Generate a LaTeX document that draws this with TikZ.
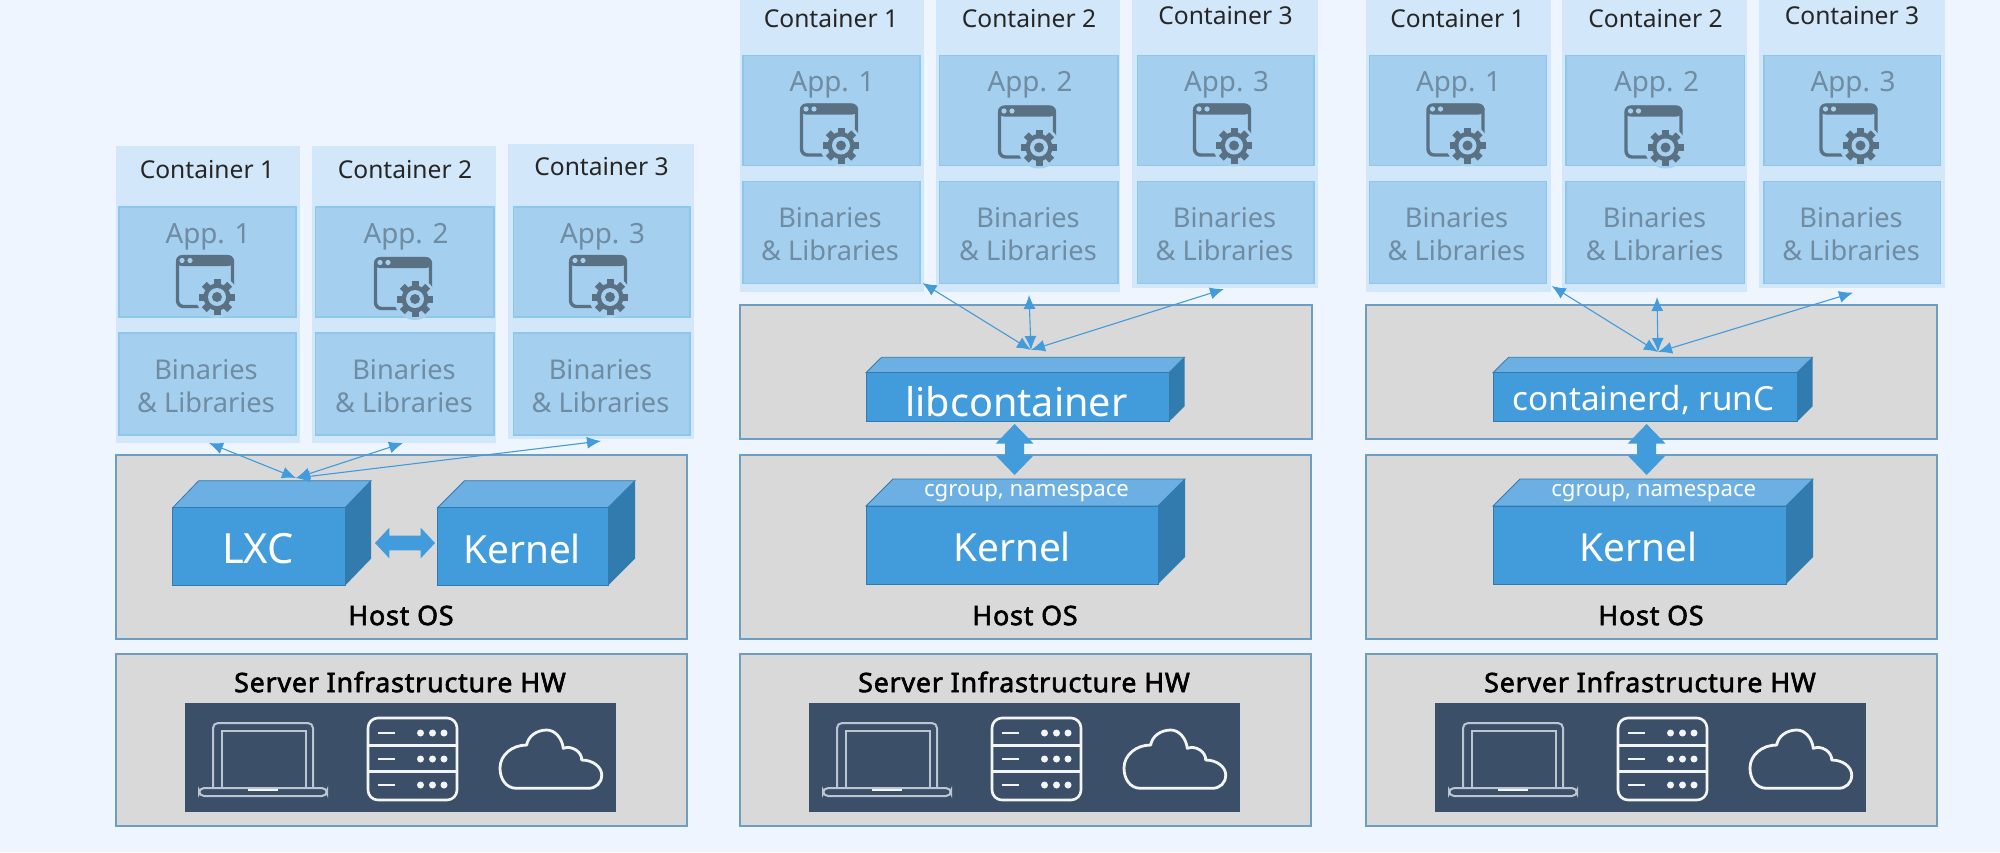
\documentclass[tikz,border=0pt]{standalone}
\usepackage{fontspec}
\setmainfont{Noto Sans}
\newfontfamily\headfont{Noto Sans}[FakeBold=2.2, LetterSpace=3]
\usepackage{tikz}
\usetikzlibrary{arrows.meta, fit, shapes.arrows}

\definecolor{bgfill}{HTML}{EFF5FF}
\definecolor{contfill}{HTML}{D2E7F9}
\definecolor{appfill}{HTML}{A4CFEF}
\definecolor{appline}{HTML}{8FC6EC}
\definecolor{appink}{HTML}{6F8CA3}
\definecolor{iconink}{HTML}{5A7184}
\definecolor{layerfill}{HTML}{D9D9D9}
\definecolor{layerline}{HTML}{6E9DC2}
\definecolor{blockfront}{HTML}{429BDB}
\definecolor{blocktop}{HTML}{6CB0E3}
\definecolor{blockside}{HTML}{327BAF}
\definecolor{hwfill}{HTML}{3B5068}
\definecolor{hwline}{HTML}{F2F4F6}
\definecolor{lapline}{HTML}{BCC6D0}

\tikzset{
    area/.style={inner sep=0pt, outer sep=0pt},
    contbox/.style={area, fill=contfill},
    appbox/.style={area, fill=appfill, draw=appline, line width=0.6pt},
    layerbox/.style={area, fill=layerfill, draw=layerline, line width=0.7pt},
    hwbox/.style={area, fill=hwfill},
    conttext/.style={font=\fontsize{12.3}{14}\selectfont, text=black!85},
    apptext/.style={font=\fontsize{13.9}{16}\selectfont, text=appink},
    bintext/.style={font=\fontsize{13.6}{16.5}\selectfont, text=appink, align=center},
    blocktext/.style={font=\fontsize{19.4}{22}\selectfont, text=white},
    smalltext/.style={font=\fontsize{11.1}{13}\selectfont, text=white},
    headtext/.style={font=\headfont\fontsize{13.4}{15}\selectfont, text=black},
    link/.style={<->, >={Latex[length=7pt,width=6pt]}, draw=blockfront, line width=0.55pt},
    sidearrow/.style={shape=double arrow, fill=blockfront, outer sep=0pt, inner xsep=3pt, inner ysep=3.5pt,
        minimum height=30pt, minimum width=15pt, double arrow head extend=4pt,
        double arrow tip angle=94},
    uparrow/.style={shape=double arrow, rotate=90, fill=blockfront, outer sep=0pt, inner xsep=3.5pt,
        inner ysep=4.5pt, minimum height=25.5pt, minimum width=18.5pt,
        double arrow head extend=4.75pt, double arrow tip angle=88},
    appicon/.pic={
        \draw[iconink, line width=1.7pt, rounded corners=3pt] (1.5,1.5) rectangle (56.5,51.5);
        \fill[iconink, rounded corners=3pt] (0,0) rectangle (58,11);
        \fill[appfill] (6,5.5) circle (2.6) (14,5.5) circle (2.6);
        \fill[appfill] (41,42) circle (21);
        \foreach \a in {0,45,...,315} {
            \fill[iconink, rotate around={\a:(41,42)}] (37.5,24) rectangle (44.5,32);
        }
        \fill[iconink] (41,42) circle (13.5);
        \fill[appfill] (41,42) circle (9);
        \fill[iconink] (41,42) circle (5);
    },
}

% Front, top and side of a block: name, x1, x2, depth x, y1, y2, depth y
\newcommand{\blockbox}[7]{
    \fill[blocktop, draw=blockside, line width=0.4pt] (#2,#5) -- (#2+#4,#5-#7) -- (#3+#4,#5-#7) -- (#3,#5) -- cycle;
    \fill[blockside] (#3,#5) -- (#3+#4,#5-#7) -- (#3+#4,#6-#7) -- (#3,#6) -- cycle;
    \node[area, fill=blockfront, draw=blockside, line width=0.4pt, fit={(#2,#5) (#3,#6)}] (#1) {};
}

\begin{document}
\begin{tikzpicture}[x=0.5pt, y=-0.5pt]
    \useasboundingbox (0,0) rectangle (2000,852);
    \fill[bgfill] (0,0) rectangle (2000,852);

    % Containers
    \foreach \n/\dx/\dy in {l/0/0, m/624/-151.5, r/1250.5/-151.5} {
        \begin{scope}[shift={(\dx,\dy)}]
            \foreach \i/\cleft/\cright/\ctop/\cbot/\aleft/\aright/\tx/\ty/\ix/\iy in {
                1/115.5/300/146/443/119/296/206/170/176/255,
                2/311.5/496/146/443/315.5/494/404/170/374/257,
                3/508/694/144/439/513.5/690/600.5/167/569/255} {
                \node[contbox, fit={(\cleft,\ctop) (\cright,\cbot)}] (\n-cont\i) {};
                \node[appbox, fit={(\aleft,207) (\aright,317)}] (\n-app\i) {};
                \node[appbox, fit={(\aleft,333) (\aright,435)}] (\n-bin\i) {};
                \node[conttext] (\n-conttext\i) at (\tx+1,\ty) {Container \i};
                \node[apptext] (\n-apptext\i) at (\tx+2,236.5) {App. \i};
                \node[bintext] (\n-bintext\i) at (\tx,386) {Binaries\\\& Libraries};
                \pic at (\ix,\iy) {appicon};
            }
        \end{scope}
    }

    % Host OS and hardware layers
    \foreach \n/\dx in {l/0, m/624, r/1250} {
        \begin{scope}[shift={(\dx,0)}]
            \node[layerbox, fit={(116,455) (687,639)}] (\n-host) {};
            \node[layerbox, fit={(116,654) (687,826)}] (\n-hw) {};
            \node[headtext] (\n-hosttext) at (401,615.5) {Host OS};
            \node[headtext] (\n-hwtext) at (400,682) {Server Infrastructure HW};
            \node[hwbox, fit={(185,703) (615.5,812)}] (\n-hwicons) {};

            % Laptop
            \draw[lapline, line width=1pt, rounded corners=2.5pt] (213,788) -- (213,723) -- (313,723) -- (313,788);
            \draw[lapline, line width=1pt] (221.5,788) -- (221.5,731) -- (306,731) -- (306,788);
            \draw[lapline, line width=1pt, rounded corners=2.5pt] (199,788) rectangle (327,796);
            \draw[hwline, line width=1.2pt] (248,790) -- (278,790);

            % Server rack
            \draw[hwline, line width=1.3pt, rounded corners=5pt] (368,718) rectangle (457,800);
            \draw[hwline, line width=1.3pt] (368,745.5) -- (457,745.5) (368,771.5) -- (457,771.5);
            \foreach \y in {733,759,785} {
                \draw[hwline, line width=1.2pt] (378,\y) -- (395,\y);
                \foreach \x in {420.5,432.5,444} {
                    \fill[hwline] (\x,\y) circle (3.5);
                }
            }

            % Cloud
            \draw[hwline, line width=1.4pt, line join=round] (516.7,788.3) .. controls (506,788.3) and (500,779) .. (500,768)
                .. controls (500,755) and (512,745) .. (526.7,745)
                .. controls (528,736) and (537,730) .. (546.7,730)
                .. controls (555,730) and (562,738) .. (563.3,748.3)
                .. controls (572,745) and (582,752) .. (581.7,760)
                .. controls (593,760) and (601.7,767) .. (601.7,775)
                .. controls (601.7,783) and (596,788.3) .. (588.3,788.3) -- cycle;
        \end{scope}
    }

    % Runtime layers
    \node[layerbox, fit={(740,305) (1312,439)}] (m-run) {};
    \node[layerbox, fit={(1366,305) (1937,439)}] (r-run) {};

    % Blocks
    \blockbox{l-lxc}{172.7}{345}{26}{507.7}{585.7}{27}
    \blockbox{l-kernel}{437.5}{608}{27}{507.7}{585.7}{27}
    \blockbox{m-lib}{866}{1169}{15.5}{372.7}{421.7}{15.4}
    \blockbox{m-kernel}{866}{1158}{27}{506}{584}{27}
    \blockbox{r-lib}{1493}{1797}{15.5}{372.7}{421.7}{15.4}
    \blockbox{r-kernel}{1493}{1786}{27}{506}{584}{27}

    \node[blocktext, font=\fontsize{20.8}{23}\selectfont] (l-lxctext) at (258,549) {LXC};
    \node[blocktext] (l-kerneltext) at (522,549) {Kernel};
    \node[blocktext, font=\fontsize{19.8}{22}\selectfont] (m-libtext) at (1016.5,401.5) {libcontainer};
    \node[blocktext] (m-kerneltext) at (1012,547) {Kernel};
    \node[blocktext, font=\fontsize{16.6}{19}\selectfont] (r-libtext) at (1643.5,400.5) {containerd, runC};
    \node[blocktext] (r-kerneltext) at (1638.7,547) {Kernel};
    \node[smalltext] (m-cgroup) at (1026.5,493) {cgroup, namespace};
    \node[smalltext] (r-cgroup) at (1653.7,493) {cgroup, namespace};

    % Block arrows
    \node[sidearrow] (l-arrow) at (405,543) {};
    \node[uparrow] (m-arrow) at (1014.6,449.5) {};
    \node[uparrow] (r-arrow) at (1646.6,449.5) {};

    % Links to the containers
    \coordinate (l-hub) at (296,478);
    \coordinate (l-tip1) at (209,443);
    \coordinate (l-tip2) at (403,443);
    \coordinate (l-tip3) at (601,441);
    \coordinate (m-hub) at (1031,350);
    \coordinate (m-tip1) at (922.5,283);
    \coordinate (m-tip2) at (1029,295);
    \coordinate (m-tip3) at (1224,289);
    \coordinate (r-hub) at (1658,352);
    \coordinate (r-tip1) at (1551.7,286);
    \coordinate (r-tip2) at (1657,297);
    \coordinate (r-tip3) at (1853,292.7);
    \foreach \n in {l,m,r} {
        \foreach \i in {1,2,3} {
            \draw[link] (\n-hub) -- (\n-tip\i);
        }
    }
\end{tikzpicture}
\end{document}
